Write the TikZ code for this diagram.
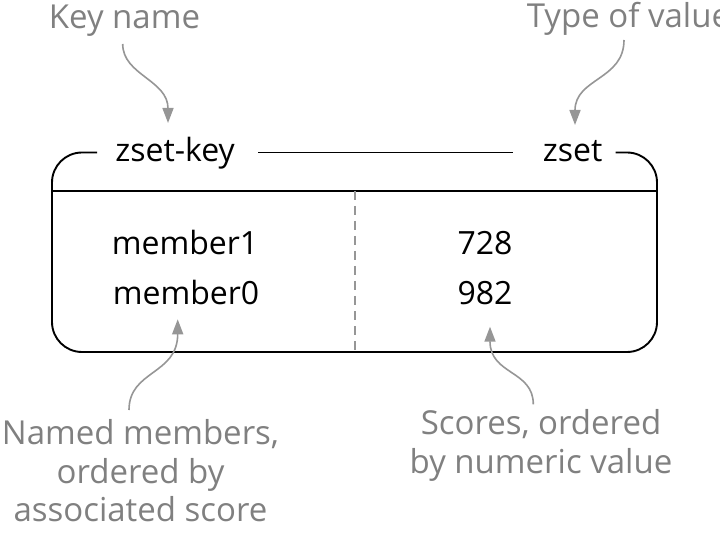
\documentclass[tikz,border=0pt]{standalone}
\usepackage{fontspec}
\setmainfont{Open Sans}
\usepackage{tikz}
\usetikzlibrary{arrows.meta,positioning,calc}
\definecolor{notegray}{RGB}{128,128,128}
\definecolor{arrowgray}{RGB}{150,150,150}

\begin{document}
\begin{tikzpicture}[x=1pt,y=-1pt,
    keytext/.style={font=\fontsize{32}{38}\selectfont, inner sep=0pt, anchor=base},
    note/.style={font=\fontsize{33}{38.7}\selectfont, text=notegray, inner sep=0pt, align=center},
    callout/.style={draw=arrowgray, line width=1.6pt, -{Triangle[length=15pt,width=11pt]}},
    frame/.style={draw=black, line width=1.9pt}]
            \useasboundingbox (0,0) rectangle (720,537);

            % key box
            \draw[frame, rounded corners=30pt] (97,152.5) -| (52,352) -| (657,152.5) -- (615.7,152.5);
            \draw[frame] (258,152.5) -- (513,152.5);
            \draw[frame] (52,191) -- (657,191);
            \draw[draw=arrowgray, line width=1.4pt, dash pattern=on 9pt off 6pt] (355,191) -- (355,352);

            \node[keytext] (zsetkey) at (175,161.7) {zset-key};
            \node[keytext] (zset) at (572.7,161.7) {zset};
            \node[keytext] (member1) at (185,255) {member1};
            \node[keytext] (member0) at (186,305) {member0};
            \node[keytext] (score1) at (485,255) {728};
            \node[keytext] (score0) at (485,305) {982};

            % notes (base is the last line)
            \node[note, anchor=base] (keyname) at (124.5,29) {Key name};
            \node[note, anchor=base west] (valuetype) at (526.7,28) {Type of value};
            \node[note, anchor=base] (membersnote) at (140.5,521.7) {Named members,\\ordered by\\associated score};
            \node[note, anchor=base] (scoresnote) at (541,473.3) {Scores, ordered\\by numeric value};

            \coordinate (keytip) at (168,123);
            \coordinate (typetip) at (575,125);
            \coordinate (membertip) at (177.7,319.3);
            \coordinate (scoretip) at (490,326.7);

            \draw[callout] (122.7,44) .. controls (122.7,75) and (168,80) .. (keytip);
            \draw[callout] (624,40) .. controls (624,80) and (575,78) .. (typetip);
            \draw[callout] (129,410) .. controls (129,370) and (177.7,375) .. (membertip);
            \draw[callout] (533.3,404.3) .. controls (533.3,370) and (490,375) .. (scoretip);
\end{tikzpicture}
\end{document}
